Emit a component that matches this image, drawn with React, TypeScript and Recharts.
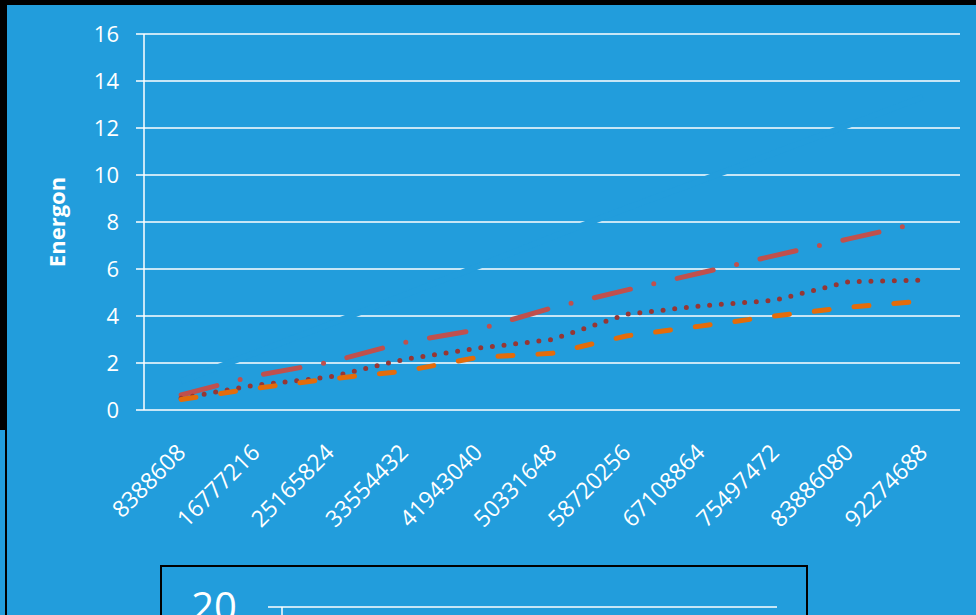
import { CartesianGrid, Line, LineChart, XAxis, YAxis } from "recharts";

const BG = "#229ddc";
const FONT = "'Open Sans', 'Noto Sans', sans-serif";

// x categories (array sizes)
const categories = [
  "8388608",
  "16777216",
  "25165824",
  "33554432",
  "41943040",
  "50331648",
  "58720256",
  "67108864",
  "75497472",
  "83886080",
  "92274688",
];

// series drawn in the background colour: only shows where it cuts the gridlines
const hiddenSeries = [1.22, 2.43, 3.65, 4.88, 6.11, 7.36, 8.58, 9.75, 10.94, 12.13, 13.32];
const dashDotSeries = [0.64, 1.46, 2.03, 2.87, 3.42, 4.35, 5.1, 5.83, 6.57, 7.28, 7.99];
const dottedSeries = [0.5, 1.06, 1.4, 2.15, 2.63, 3.0, 4.07, 4.43, 4.67, 5.46, 5.53];
const dashedSeries = [0.45, 0.92, 1.32, 1.65, 2.24, 2.41, 3.15, 3.57, 4.0, 4.37, 4.64];

const yTicks = [0, 2, 4, 6, 8, 10, 12, 14, 16];
// the chart below is cut off by the window, only its "20" row shows
const lowerYTicks = [20];

// Excel-style: tick marks between categories, labels centred in each slot
const boundaryTicks = [...categories.map((_, i) => i), categories.length];
const labelTicks = categories.map((_, i) => i + 0.5);

const data = categories.map((label, i) => ({
  pos: i + 0.5,
  label,
  hidden: hiddenSeries[i],
  dashDot: dashDotSeries[i],
  dotted: dottedSeries[i],
  dashed: dashedSeries[i],
}));

function AngledTick({ x, y, payload }: any) {
  const label = categories[Math.floor(payload.value)] ?? "";
  return (
    <g transform={`translate(${x + 6},${y + 44})`}>
      <text
        transform="rotate(-45)"
        textAnchor="end"
        fill="#fff"
        fontSize={23}
        fontFamily={FONT}
      >
        {label}
      </text>
    </g>
  );
}

export default function App() {
  return (
    <div
      style={{
        position: "fixed",
        left: 0,
        top: 0,
        width: 976,
        height: 615,
        overflow: "hidden",
        background: BG,
      }}
    >
      {/* black frame bits from the screenshot */}
      <div style={{ position: "absolute", left: 0, top: 0, width: 976, height: 5, background: "#000" }} />
      <div style={{ position: "absolute", left: 0, top: 0, width: 7, height: 430, background: "#000" }} />
      <div style={{ position: "absolute", left: 5, top: 430, width: 2, height: 185, background: "#000" }} />

      <div style={{ position: "absolute", left: 0, top: 0 }}>
        <LineChart width={976} height={560} data={data} margin={{ top: 34, right: 16, bottom: 0, left: 0 }}>
          <CartesianGrid horizontal vertical={false} stroke="#fff" strokeWidth={1.5} />
          <XAxis
            xAxisId="ticks"
            dataKey="pos"
            type="number"
            domain={[0, categories.length]}
            ticks={boundaryTicks}
            interval={0}
            height={0}
            stroke="#fff"
            strokeWidth={1.5}
            tickSize={8}
            tickFormatter={() => ""}
          />
          <XAxis
            xAxisId="labels"
            dataKey="pos"
            type="number"
            domain={[0, categories.length]}
            ticks={labelTicks}
            height={150}
            axisLine={false}
            tickLine={false}
            tickSize={0}
            tickMargin={0}
            interval={0}
            tick={<AngledTick />}
          />
          <YAxis
            width={144}
            domain={[0, 16]}
            ticks={yTicks}
            interval={0}
            stroke="#fff"
            strokeWidth={1.5}
            tickSize={8}
            tickMargin={17}
            tick={{ fill: "#fff", fontSize: 22, fontFamily: FONT }}
            label={{
              value: "Energon",
              angle: -90,
              position: "insideLeft",
              offset: 57,
              style: { textAnchor: "middle", fill: "#fff", fontWeight: 700, fontSize: 22, fontFamily: FONT },
            }}
          />
          <Line
            xAxisId="ticks"
            type="linear"
            dataKey="hidden"
            stroke={BG}
            strokeWidth={6}
            dot={false}
            isAnimationActive={false}
          />
          <Line
            xAxisId="ticks"
            type="linear"
            dataKey="dashDot"
            stroke="#c0504d"
            strokeWidth={5}
            strokeLinecap="round"
            strokeDasharray="37 24 0 24"
            dot={false}
            isAnimationActive={false}
          />
          <Line
            xAxisId="ticks"
            type="linear"
            dataKey="dotted"
            stroke="#963634"
            strokeWidth={5}
            strokeLinecap="round"
            strokeDasharray="0 11.7"
            dot={false}
            isAnimationActive={false}
          />
          <Line
            xAxisId="ticks"
            type="linear"
            dataKey="dashed"
            stroke="#e46c0a"
            strokeWidth={5}
            strokeLinecap="round"
            strokeDasharray="15 25"
            dot={false}
            isAnimationActive={false}
          />
        </LineChart>
      </div>

      {/* the next chart on the sheet, only its top edge is in view */}
      <div
        style={{
          position: "absolute",
          left: 160,
          top: 565,
          width: 648,
          height: 300,
          border: "2px solid #000",
          boxSizing: "border-box",
        }}
      >
        <LineChart width={644} height={296} data={data} margin={{ top: 40, right: 29, bottom: 0, left: 0 }}>
          <CartesianGrid horizontal vertical={false} stroke="#fff" strokeWidth={1.5} />
          <XAxis dataKey="label" hide />
          <YAxis
            type="number"
            width={120}
            domain={[0, 20]}
            allowDataOverflow
            ticks={lowerYTicks}
            interval={0}
            stroke="#fff"
            strokeWidth={1.5}
            tickSize={14}
            tickMargin={31}
            tick={{ fill: "#fff", fontSize: 40, fontFamily: FONT }}
          />
          {/* its series are below the window edge; an empty line keeps the axis ticks */}
          <Line dataKey="lower" stroke="#fff" dot={false} isAnimationActive={false} />
        </LineChart>
      </div>
    </div>
  );
}
